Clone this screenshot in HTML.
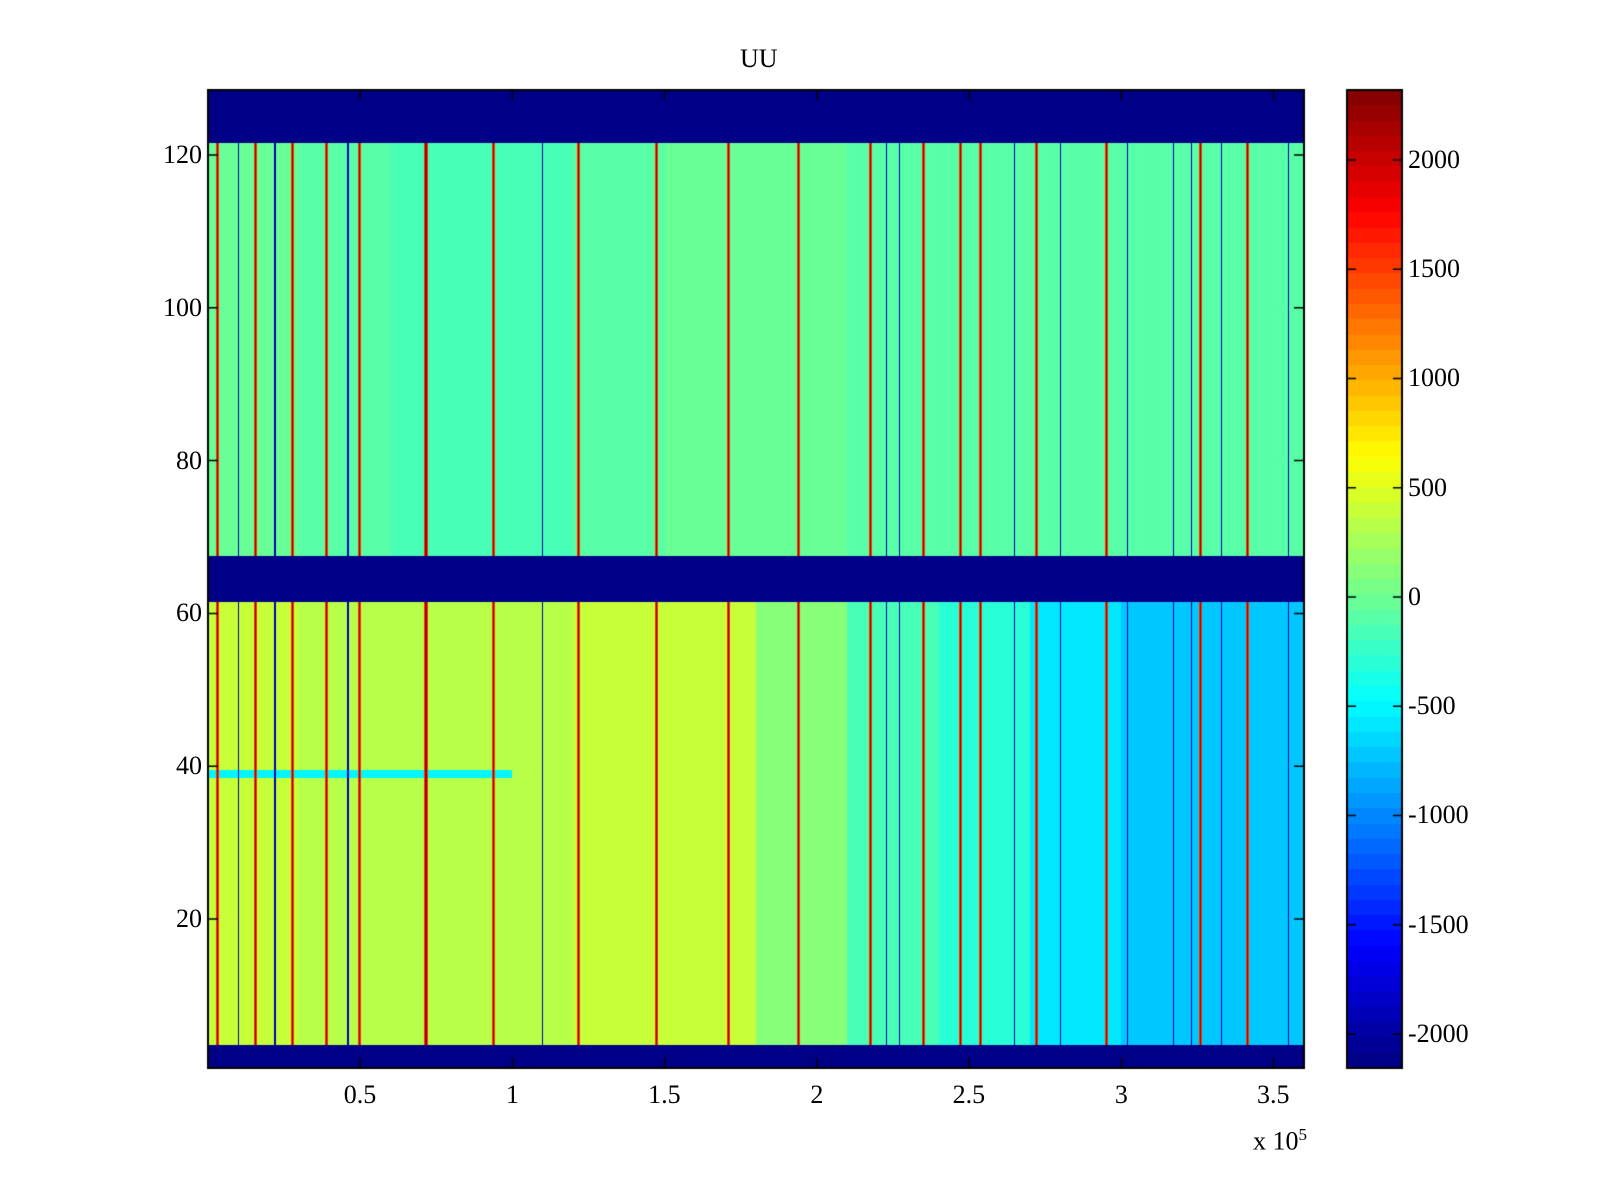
<!DOCTYPE html>
<html><head><meta charset="utf-8"><style>
body{margin:0;background:#fff;width:1600px;height:1200px;overflow:hidden;position:relative;font-family:"Liberation Serif",serif;}
canvas{position:absolute;left:0;top:0}
.t{position:absolute;font-size:26px;color:#000;white-space:nowrap}
</style></head><body>
<canvas id="c" width="1600" height="1200"></canvas>
<div id="labels"></div>
<script>
// ---- data ----
const xBins = [0,0.3,0.6,0.9,1.2,1.5,1.8,2.1,2.4,2.7,3.0,3.3];           // bin starts (x 1e5)
const lowerBase = [380,360,340,360,380,420,150,-150,-300,-600,-750,-750]; // rows 4-61
const upperBase = [-50,-100,-150,-150,-100,-50,-50,-100,-100,-100,-120,-100]; // rows 68-121
const redStripes = [0.031,0.156,0.277,0.389,0.497,0.716,0.938,1.218,1.474,1.710,1.940,2.176,2.351,2.472,2.537,2.722,2.951,3.261,3.413];
const darkLines = [0.10,0.22,0.46,1.10,2.23,2.27,2.65,2.80,3.02,3.17,3.23,3.33,3.55];
const blankRows = [[1,3],[62,67],[122,128]];
const blankValue = -2156;
const streakRow = 39, streakXEnd = 1.0, streakValue = -500;
const xTicks = [0.5,1,1.5,2,2.5,3,3.5];
const yTicks = [20,40,60,80,100,120];
const cTicks = [-2000,-1500,-1000,-500,0,500,1000,1500,2000];
// ---- layout ----
const L=208,R=1304,T=90,B=1068, CL=1347,CR=1402;
const xMin=0,xMax=3.6,yMin=0.5,yMax=128.5,cMin=-2156,cMax=2320;
const sx=v=>L+(v-xMin)/(xMax-xMin)*(R-L);
const sy=v=>B-(v-yMin)/(yMax-yMin)*(B-T);
const sc=v=>B-(v-cMin)/(cMax-cMin)*(B-T);
function jet(v){
  let f=(v-cMin)/(cMax-cMin); f=Math.max(0,Math.min(0.9999,f));
  const i=Math.floor(f*64), x=(i+0.5)/64;
  const cl=t=>Math.max(0,Math.min(1,t));
  return [cl(1.5-Math.abs(4*x-3)),cl(1.5-Math.abs(4*x-2)),cl(1.5-Math.abs(4*x-1))].map(a=>Math.round(a*255));
}
function value(x,row){
  for(const b of blankRows) if(row>=b[0]&&row<=b[1]) return blankValue;
  for(const s of darkLines) if(Math.abs(x-s)<0.0018) return -1900;
  for(const s of redStripes){const d=Math.abs(x-s); if(d<0.0018) return 2250; if(d<0.005) return 1500;}
  let bi=0; for(let i=0;i<xBins.length;i++) if(x>=xBins[i]) bi=i;
  if(row<=61){ if(row===streakRow && x<streakXEnd) return streakValue; return lowerBase[bi]; }
  return upperBase[bi];
}
const cv=document.getElementById('c'),ctx=cv.getContext('2d');
ctx.fillStyle='#fff';ctx.fillRect(0,0,1600,1200);
const img=ctx.createImageData(R-L,B-T);
for(let py=0;py<B-T;py++){
  const row=Math.round(yMax-(py+0.5)/(B-T)*(yMax-yMin));
  for(let px=0;px<R-L;px++){
    const x=xMin+(px+0.5)/(R-L)*(xMax-xMin);
    const c=jet(value(x,row)); const k=(py*(R-L)+px)*4;
    img.data[k]=c[0];img.data[k+1]=c[1];img.data[k+2]=c[2];img.data[k+3]=255;
  }
}
ctx.putImageData(img,L,T);
// colorbar
for(let py=T;py<B;py++){const v=cMax-(py-T+0.5)/(B-T)*(cMax-cMin);const c=jet(v);ctx.fillStyle=`rgb(${c})`;ctx.fillRect(CL,py,CR-CL,1);}
ctx.strokeStyle='#000';ctx.lineWidth=2;
ctx.strokeRect(L,T,R-L,B-T);ctx.strokeRect(CL,T,CR-CL,B-T);
ctx.lineWidth=1.5;ctx.beginPath();
xTicks.forEach(t=>{const x=sx(t);ctx.moveTo(x,B);ctx.lineTo(x,B-10);ctx.moveTo(x,T);ctx.lineTo(x,T+10);});
yTicks.forEach(t=>{const y=sy(t);ctx.moveTo(L,y);ctx.lineTo(L+10,y);ctx.moveTo(R,y);ctx.lineTo(R-10,y);});
cTicks.forEach(t=>{const y=sc(t);ctx.moveTo(CL,y);ctx.lineTo(CL+9,y);ctx.moveTo(CR,y);ctx.lineTo(CR-9,y);});
ctx.stroke();
const lab=document.getElementById('labels');
function add(txt,x,y,name,align){const d=document.createElement('div');d.className='t';d.innerHTML=txt;


lab.appendChild(d);const w=d.offsetWidth,h=d.offsetHeight;
d.style.left=(align==='r'?x-w:align==='c'?x-w/2:x)+'px';d.style.top=(y-h/2)+'px';}
xTicks.forEach(t=>add(String(t),sx(t),1095,'x-tick-label','c'));
yTicks.forEach(t=>add(String(t),L-6,sy(t),'y-tick-label','r'));
cTicks.forEach(t=>add(String(t),CR+6,sc(t),'colorbar-tick-label','l'));
add('UU',759,59,'chart-title','c');
add('x 10<sup style="font-size:17px">5</sup>',1280,1141,'x-axis-exponent','c');
</script>
</body></html>
